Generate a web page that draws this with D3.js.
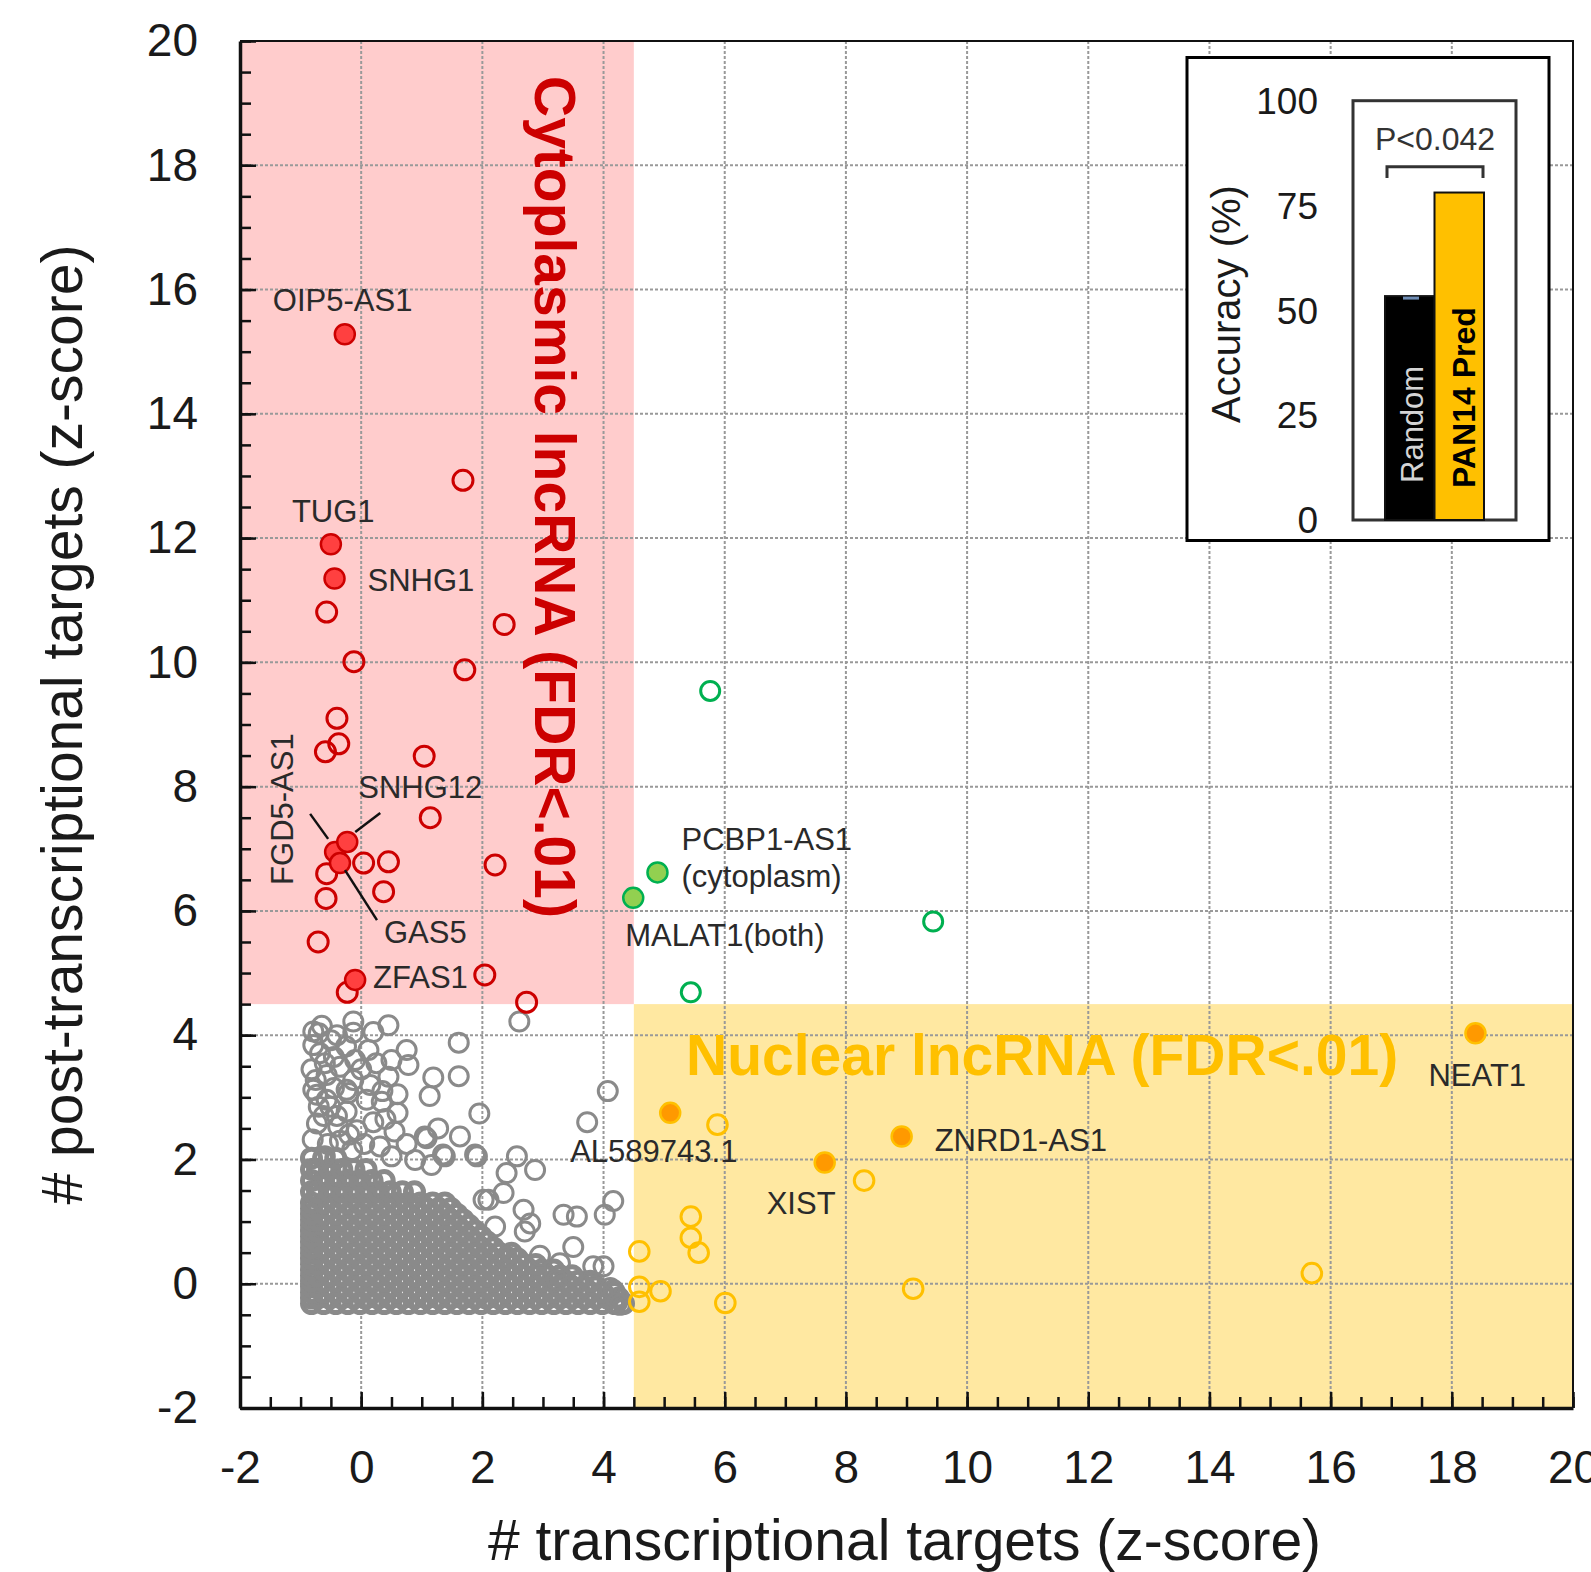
<!DOCTYPE html>
<html>
<head>
<meta charset="utf-8">
<script src="https://cdn.jsdelivr.net/npm/d3@7"></script>
<style>
  body { margin: 0; background: #fff; }
  text { font-family: 'Liberation Sans', Arial, sans-serif; }
</style>
</head>
<body>
<svg id="chart"></svg>
<script>
const W = 1591
const H = 1572
const margin = { top: 41, left: 240, right: 18, bottom: 164 }
const width = W - margin.left - margin.right
const height = H - margin.top - margin.bottom

/// data ////////////////////////////////
const xTicks = [-2, 0, 2, 4, 6, 8, 10, 12, 14, 16, 18, 20]
const yTicks = [-2, 0, 2, 4, 6, 8, 10, 12, 14, 16, 18, 20]
const insetTicks = [0, 25, 50, 75, 100]

// shaded zones (FDR < .01 thresholds)
const cytoZone = { x0: -2, x1: 4.5, y0: 4.5, y1: 20 }
const nucZone = { x0: 4.5, x1: 20, y0: -2, y1: 4.5 }

// named (filled) points: [name, transcriptional z, post-transcriptional z]
const cytoNamed = [
  ['OIP5-AS1', -0.27, 15.28],
  ['TUG1', -0.5, 11.9],
  ['SNHG1', -0.44, 11.35],
  ['FGD5-AS1', -0.43, 6.95],
  ['SNHG12', -0.23, 7.11],
  ['GAS5', -0.35, 6.77],
  ['ZFAS1', -0.1, 4.89]
]
const greenNamed = [
  ['PCBP1-AS1', 4.89, 6.62],
  ['MALAT1', 4.49, 6.21]
]
const nucNamed = [
  ['NEAT1', 18.39, 4.03],
  ['AL589743.1', 5.1, 2.75],
  ['ZNRD1-AS1', 8.92, 2.37],
  ['XIST', 7.65, 1.95]
]

// unnamed significant points
const cytoOpen = [
  [1.68, 12.93], [2.36, 10.61], [-0.57, 10.81], [-0.12, 10.01], [1.71, 9.88],
  [-0.4, 9.1], [-0.37, 8.69], [-0.59, 8.56], [1.04, 8.49], [1.14, 7.5],
  [0.04, 6.77], [0.45, 6.79], [-0.57, 6.6], [-0.58, 6.2], [0.37, 6.31],
  [-0.71, 5.5], [2.21, 6.74], [2.04, 4.97], [2.73, 4.53], [-0.23, 4.69]
]
const greenOpen = [[5.76, 9.54], [9.44, 5.83], [5.44, 4.69]]
const nucOpen = [
  [5.88, 2.56], [8.3, 1.66], [5.44, 1.08], [5.44, 0.74], [5.57, 0.5],
  [4.59, 0.52], [4.59, -0.05], [4.94, -0.12], [4.59, -0.29], [6.01, -0.31],
  [9.11, -0.08], [15.69, 0.17]
]

// non-significant lncRNAs, sparse part of the cloud
const grayScatter = [
  [-0.79, 4.06], [-0.7, 4.03], [-0.4, 4.0], [-0.13, 4.22], [-0.13, 4.04], [0.45, 4.16],
  [-0.5, 3.92], [-0.25, 3.82], [-0.79, 3.84], [-0.68, 3.71], [0.12, 3.76], [0.75, 3.76],
  [-0.6, 3.55], [0.25, 3.55], [0.78, 3.52], [-0.82, 3.45], [-0.35, 3.49], [0.0, 3.45],
  [-0.57, 3.36], [0.45, 3.33], [-0.13, 3.28], [-0.75, 3.28], [0.15, 3.2], [-0.79, 3.12],
  [-0.24, 3.12], [-0.21, 3.07], [-0.73, 3.04], [0.34, 2.93], [0.09, 2.96], [-0.57, 2.96],
  [-0.51, 2.85], [-0.7, 2.85], [-0.24, 2.77], [0.6, 2.75], [-0.4, 2.7], [-0.73, 2.58],
  [0.2, 2.6], [-0.38, 2.53], [-0.07, 2.47], [0.55, 2.45], [-0.8, 2.32], [-0.35, 2.3],
  [-0.55, 2.25], [0.05, 2.25], [0.31, 2.21], [-0.15, 2.15],
  [-0.65, 4.15], [0.2, 4.05], [-0.45, 3.65], [0.5, 3.6], [-0.1, 3.6], [0.35, 3.1],
  [-0.45, 3.15], [0.6, 3.05], [-0.62, 2.7], [0.4, 2.65], [-0.2, 2.4], [0.75, 2.25],
  [0.5, 2.05], [-0.6, 2.05],
  [1.61, 3.88], [2.61, 4.22], [1.19, 3.32], [1.61, 3.34], [1.13, 3.02], [1.95, 2.74],
  [1.27, 2.5], [1.08, 2.34], [1.05, 2.37], [1.63, 2.37], [1.38, 2.05], [1.35, 2.08],
  [0.89, 1.99], [1.16, 1.91], [1.91, 2.05], [1.88, 2.08], [2.57, 2.05], [2.4, 1.78],
  [2.87, 1.83], [2.35, 1.46], [2.1, 1.35], [2.02, 1.35], [2.68, 1.19], [2.79, 0.97],
  [2.7, 0.84], [2.21, 0.92], [3.34, 1.11], [3.56, 1.08], [4.16, 1.33], [4.02, 1.11],
  [3.73, 2.6], [4.07, 3.1], [2.95, 0.45], [2.4, 0.44], [3.5, 0.59], [3.28, 0.33],
  [3.83, 0.28], [3.23, 0.06], [4.11, -0.07], [4.16, -0.1], [4.22, -0.31], [4.27, -0.34],
  [4.0, 0.28]
]

// dense part of the cloud, read row by row: [y, x values]
const grayDenseRows = [
  [-0.32, [-0.82, -0.62, -0.42, -0.22, -0.02, 0.18, 0.38, 0.58, 0.78, 0.98, 1.18, 1.38, 1.58, 1.78, 1.98, 2.18, 2.38, 2.58, 2.78, 2.98, 3.18, 3.38, 3.58, 3.78, 3.98, 4.18, 4.33]],
  [-0.23, [-0.82, -0.72, -0.52, -0.32, -0.12, 0.08, 0.28, 0.48, 0.68, 0.88, 1.08, 1.28, 1.48, 1.68, 1.88, 2.08, 2.28, 2.48, 2.68, 2.88, 3.08, 3.28, 3.48, 3.68, 3.88, 4.08, 4.25]],
  [-0.14, [-0.82, -0.62, -0.42, -0.22, -0.02, 0.18, 0.38, 0.58, 0.78, 0.98, 1.18, 1.38, 1.58, 1.78, 1.98, 2.18, 2.38, 2.58, 2.78, 2.98, 3.18, 3.38, 3.58, 3.78, 3.98, 4.18]],
  [-0.05, [-0.82, -0.72, -0.52, -0.32, -0.12, 0.08, 0.28, 0.48, 0.68, 0.88, 1.08, 1.28, 1.48, 1.68, 1.88, 2.08, 2.28, 2.48, 2.68, 2.88, 3.08, 3.28, 3.48, 3.68, 3.88]],
  [0.04, [-0.82, -0.62, -0.42, -0.22, -0.02, 0.18, 0.38, 0.58, 0.78, 0.98, 1.18, 1.38, 1.58, 1.78, 1.98, 2.18, 2.38, 2.58, 2.78, 2.98, 3.18, 3.38, 3.58, 3.78]],
  [0.13, [-0.82, -0.72, -0.52, -0.32, -0.12, 0.08, 0.28, 0.48, 0.68, 0.88, 1.08, 1.28, 1.48, 1.68, 1.88, 2.08, 2.28, 2.48, 2.68, 2.88, 3.08, 3.28, 3.48]],
  [0.22, [-0.82, -0.62, -0.42, -0.22, -0.02, 0.18, 0.38, 0.58, 0.78, 0.98, 1.18, 1.38, 1.58, 1.78, 1.98, 2.18, 2.38, 2.58, 2.78, 2.98, 3.18]],
  [0.31, [-0.82, -0.72, -0.52, -0.32, -0.12, 0.08, 0.28, 0.48, 0.68, 0.88, 1.08, 1.28, 1.48, 1.68, 1.88, 2.08, 2.28, 2.48, 2.68, 2.88]],
  [0.4, [-0.82, -0.62, -0.42, -0.22, -0.02, 0.18, 0.38, 0.58, 0.78, 0.98, 1.18, 1.38, 1.58, 1.78, 1.98, 2.18, 2.38, 2.58]],
  [0.49, [-0.82, -0.72, -0.52, -0.32, -0.12, 0.08, 0.28, 0.48, 0.68, 0.88, 1.08, 1.28, 1.48, 1.68, 1.88, 2.08, 2.28, 2.48]],
  [0.58, [-0.82, -0.62, -0.42, -0.22, -0.02, 0.18, 0.38, 0.58, 0.78, 0.98, 1.18, 1.38, 1.58, 1.78, 1.98, 2.18]],
  [0.67, [-0.82, -0.72, -0.52, -0.32, -0.12, 0.08, 0.28, 0.48, 0.68, 0.88, 1.08, 1.28, 1.48, 1.68, 1.88, 2.08]],
  [0.76, [-0.82, -0.62, -0.42, -0.22, -0.02, 0.18, 0.38, 0.58, 0.78, 0.98, 1.18, 1.38, 1.58, 1.78, 1.98]],
  [0.85, [-0.82, -0.72, -0.52, -0.32, -0.12, 0.08, 0.28, 0.48, 0.68, 0.88, 1.08, 1.28, 1.48, 1.68, 1.88]],
  [0.94, [-0.82, -0.62, -0.42, -0.22, -0.02, 0.18, 0.38, 0.58, 0.78, 0.98, 1.18, 1.38, 1.58, 1.78]],
  [1.03, [-0.82, -0.72, -0.52, -0.32, -0.12, 0.08, 0.28, 0.48, 0.68, 0.88, 1.08, 1.28, 1.48, 1.68]],
  [1.12, [-0.82, -0.62, -0.42, -0.22, -0.02, 0.18, 0.38, 0.58, 0.78, 0.98, 1.18, 1.38, 1.58]],
  [1.21, [-0.82, -0.72, -0.52, -0.32, -0.12, 0.08, 0.28, 0.48, 0.68, 0.88, 1.08, 1.28, 1.48]],
  [1.3, [-0.82, -0.62, -0.42, -0.22, -0.02, 0.18, 0.38, 0.58, 0.78, 0.98, 1.18, 1.38]],
  [1.48, [-0.82, -0.72, -0.52, -0.32, -0.12, 0.08, 0.28, 0.48, 0.68, 0.88]],
  [1.66, [-0.82, -0.62, -0.42, -0.22, -0.02, 0.18, 0.38]],
  [1.84, [-0.82, -0.72, -0.52, -0.32, -0.12, 0.08]],
  [2.02, [-0.82, -0.62, -0.42]]
]

// inset bar chart
const insetGroups = ['Random', 'PAN14 Pred']
const insetAccuracy = [53.4, 78.1]
const insetPValue = 'P<0.042'

/// label layout (pixel offsets from the point) ////////
const labelLayout = {
  'OIP5-AS1': { dx: -72, dy: -23 },
  TUG1: { dx: -39, dy: -22 },
  SNHG1: { dx: 33, dy: 13 },
  'FGD5-AS1': { dx: -42, dy: 33, rotate: true, line: [-25, -38, -7, -13] },
  SNHG12: { dx: 11, dy: -44, line: [33, -29, 8, -10] },
  GAS5: { dx: 44, dy: 80, line: [5, 7, 37, 57] },
  ZFAS1: { dx: 18, dy: 8 },
  'PCBP1-AS1': { dx: 24, dy: -22, lines: ['PCBP1-AS1', '(cytoplasm)'] },
  MALAT1: { dx: -8, dy: 48, lines: ['MALAT1(both)'] },
  NEAT1: { dx: -47, dy: 53 },
  'AL589743.1': { dx: -100, dy: 49 },
  'ZNRD1-AS1': { dx: 33, dy: 15 },
  XIST: { dx: -58, dy: 51 }
}

const svg = d3
  .select('#chart')
  .attr('width', W)
  .attr('height', H)

const g = svg
  .append('g')
  .attr('transform', 'translate(' + margin.left + ',' + margin.top + ')')

/// Scales ////////////////////////////////
const xScale = d3.scaleLinear().domain([-2, 20]).range([0, width])
const yScale = d3.scaleLinear().domain([-2, 20]).range([height, 0])

/// zones ////////////////////////////////
g.append('rect')
  .attr('x', xScale(cytoZone.x0))
  .attr('y', yScale(cytoZone.y1))
  .attr('width', xScale(cytoZone.x1) - xScale(cytoZone.x0))
  .attr('height', yScale(cytoZone.y0) - yScale(cytoZone.y1))
  .attr('fill', '#FFCCCC')

g.append('rect')
  .attr('x', xScale(nucZone.x0))
  .attr('y', yScale(nucZone.y1))
  .attr('width', xScale(nucZone.x1) - xScale(nucZone.x0))
  .attr('height', yScale(nucZone.y0) - yScale(nucZone.y1))
  .attr('fill', '#FFE8A1')

/// grid ////////////////////////////////
g.selectAll('.grid-x')
  .data(xTicks.slice(1, -1))
  .join('line')
  .attr('class', 'grid-x')
  .attr('x1', d => xScale(d))
  .attr('x2', d => xScale(d))
  .attr('y1', 0)
  .attr('y2', height)
  .attr('stroke', '#999')
  .attr('stroke-width', 2)
  .attr('stroke-dasharray', '3,2')

g.selectAll('.grid-y')
  .data(yTicks.slice(1, -1))
  .join('line')
  .attr('class', 'grid-y')
  .attr('x1', 0)
  .attr('x2', width)
  .attr('y1', d => yScale(d))
  .attr('y2', d => yScale(d))
  .attr('stroke', '#999')
  .attr('stroke-width', 2)
  .attr('stroke-dasharray', '3,2')

/// zone titles ////////////////////////////////
g.append('text')
  .text('Cytoplasmic lncRNA (FDR<.01)')
  .attr('transform', 'translate(' + (535 - margin.left) + ',' + (76 - margin.top) + ') rotate(90)')
  .attr('font-size', 57)
  .attr('font-weight', 'bold')
  .attr('fill', '#CC0000')

g.append('text')
  .text('Nuclear lncRNA (FDR<.01)')
  .attr('x', 686 - margin.left)
  .attr('y', 1075 - margin.top)
  .attr('font-size', 57)
  .attr('font-weight', 'bold')
  .attr('fill', '#FFC000')

/// points ////////////////////////////////
const denseXY = grayDenseRows.flatMap(r => r[1].map(x => [x, r[0]]))

function openDots(cls, data, color, r, sw) {
  g.selectAll('.' + cls)
    .data(data)
    .join('circle')
    .attr('class', cls)
    .attr('cx', d => xScale(d[0]))
    .attr('cy', d => yScale(d[1]))
    .attr('r', r)
    .attr('fill', 'none')
    .attr('stroke', color)
    .attr('stroke-width', sw || 3)
}

function filledDots(cls, data, fill, stroke) {
  g.selectAll('.' + cls)
    .data(data)
    .join('circle')
    .attr('class', cls)
    .attr('cx', d => xScale(d[1]))
    .attr('cy', d => yScale(d[2]))
    .attr('r', 10)
    .attr('fill', fill)
    .attr('stroke', stroke)
    .attr('stroke-width', 2.5)
}

// the packed core of the cloud reads as solid grey in the figure
openDots('gray-dense', denseXY, '#8a8a8a', 9, 5)
openDots('gray-sparse', grayScatter, '#8a8a8a', 9.5)
openDots('nuc-open', nucOpen, '#FFC000', 9.8)
openDots('green-open', greenOpen, '#00B050', 9.5)
openDots('cyto-open', cytoOpen, '#CC0000', 10)

filledDots('cyto-filled', cytoNamed, '#FF4040', '#CC0000')
filledDots('green-filled', greenNamed, '#92D050', '#00B050')
filledDots('nuc-filled', nucNamed, '#FF9900', '#FFC000')

/// point labels ////////////////////////////////
const named = cytoNamed.concat(greenNamed, nucNamed)

named.forEach(d => {
  const lay = labelLayout[d[0]]
  const px = xScale(d[1])
  const py = yScale(d[2])
  if (lay.line) {
    g.append('line')
      .attr('x1', px + lay.line[0])
      .attr('y1', py + lay.line[1])
      .attr('x2', px + lay.line[2])
      .attr('y2', py + lay.line[3])
      .attr('stroke', '#111')
      .attr('stroke-width', 2.5)
  }
  const t = g
    .append('text')
    .attr('font-size', 31)
    .attr('fill', '#2a2a2a')
  if (lay.rotate) {
    t.attr('transform', 'translate(' + (px + lay.dx) + ',' + (py + lay.dy) + ') rotate(-90)').text(d[0])
  } else if (lay.lines) {
    t.attr('x', px + lay.dx).attr('y', py + lay.dy)
    lay.lines.forEach((s, i) => {
      t.append('tspan')
        .attr('x', px + lay.dx)
        .attr('dy', i === 0 ? 0 : 37)
        .text(s)
    })
  } else {
    t.attr('x', px + lay.dx).attr('y', py + lay.dy).text(d[0])
  }
})

/// axes ////////////////////////////////
const minorTicks = d3.range(-2, 20.001, 0.5)

const yAxis = g
  .append('g')
  .attr('class', 'axis y-axis')
  .call(
    d3
      .axisLeft(yScale)
      .tickValues(yTicks)
      .tickSizeInner(-16)
      .tickSizeOuter(0)
      .tickPadding(42)
      .tickFormat(d => String(d))
  )
yAxis.select('.domain').attr('stroke', '#111').attr('stroke-width', 3.5)
yAxis.selectAll('.tick line').attr('stroke', '#111').attr('stroke-width', 2.5)
yAxis
  .selectAll('.tick text')
  .attr('font-size', 46)
  .attr('fill', '#1a1a1a')
  .attr('font-family', "'Liberation Sans', Arial, sans-serif")

g.append('g')
  .call(
    d3
      .axisLeft(yScale)
      .tickValues(minorTicks)
      .tickSizeInner(-11)
      .tickSizeOuter(0)
      .tickFormat('')
  )
  .call(a => a.select('.domain').remove())
  .selectAll('.tick line')
  .attr('stroke', '#111')
  .attr('stroke-width', 2.5)

const xAxis = g
  .append('g')
  .attr('class', 'axis x-axis')
  .attr('transform', 'translate(0,' + height + ')')
  .call(
    d3
      .axisBottom(xScale)
      .tickValues(xTicks)
      .tickSizeInner(-16)
      .tickSizeOuter(0)
      .tickPadding(42)
      .tickFormat(d => String(d))
  )
xAxis.select('.domain').attr('stroke', '#111').attr('stroke-width', 3.5)
xAxis.selectAll('.tick line').attr('stroke', '#111').attr('stroke-width', 2.5)
xAxis
  .selectAll('.tick text')
  .attr('font-size', 46)
  .attr('fill', '#1a1a1a')
  .attr('font-family', "'Liberation Sans', Arial, sans-serif")

g.append('g')
  .attr('transform', 'translate(0,' + height + ')')
  .call(
    d3
      .axisBottom(xScale)
      .tickValues(minorTicks)
      .tickSizeInner(-11)
      .tickSizeOuter(0)
      .tickFormat('')
  )
  .call(a => a.select('.domain').remove())
  .selectAll('.tick line')
  .attr('stroke', '#111')
  .attr('stroke-width', 2.5)

// frame top / right
g.append('path')
  .attr('d', 'M0,0H' + width + 'V' + height)
  .attr('fill', 'none')
  .attr('stroke', '#111')
  .attr('stroke-width', 2)

/// axis titles ////////////////////////////////
svg
  .append('text')
  .text('# post-transcriptional targets (z-score)')
  .attr('transform', 'translate(82,' + (margin.top + height / 2) + ') rotate(-90)')
  .attr('text-anchor', 'middle')
  .attr('font-size', 57)
  .attr('fill', '#1a1a1a')

svg
  .append('text')
  .text('# transcriptional targets (z-score)')
  .attr('x', margin.left + width / 2 - 2)
  .attr('y', 1560)
  .attr('text-anchor', 'middle')
  .attr('font-size', 57)
  .attr('fill', '#1a1a1a')

/// inset ////////////////////////////////
const inset = svg.append('g').attr('class', 'inset')

inset
  .append('rect')
  .attr('x', 1187)
  .attr('y', 57.5)
  .attr('width', 362)
  .attr('height', 483)
  .attr('fill', '#fff')
  .attr('stroke', '#000')
  .attr('stroke-width', 3)

const yIn = d3.scaleLinear().domain([0, 100]).range([520, 100.7])
const xIn = d3.scaleBand().domain(insetGroups).range([1385, 1484]).padding(0)

inset
  .append('rect')
  .attr('x', 1353)
  .attr('y', yIn(100))
  .attr('width', 163)
  .attr('height', yIn(0) - yIn(100))
  .attr('fill', '#fff')
  .attr('stroke', '#333')
  .attr('stroke-width', 3)

inset
  .selectAll('.in-tick')
  .data(insetTicks)
  .join('text')
  .attr('class', 'in-tick')
  .attr('x', 1318)
  .attr('y', d => yIn(d))
  .attr('dy', '0.36em')
  .attr('text-anchor', 'end')
  .attr('font-size', 37)
  .attr('fill', '#1a1a1a')
  .text(d => d)

inset
  .selectAll('.in-bar')
  .data(insetGroups)
  .join('rect')
  .attr('class', 'in-bar')
  .attr('x', d => xIn(d))
  .attr('y', (d, i) => yIn(insetAccuracy[i]))
  .attr('width', xIn.bandwidth())
  .attr('height', (d, i) => yIn(0) - yIn(insetAccuracy[i]))
  .attr('fill', (d, i) => (i === 0 ? '#000' : '#FFC000'))
  .attr('stroke', '#111')
  .attr('stroke-width', 2)

// small error cap on the random bar
inset
  .append('line')
  .attr('x1', xIn('Random') + 18)
  .attr('x2', xIn('Random') + 34)
  .attr('y1', yIn(insetAccuracy[0]) + 2)
  .attr('y2', yIn(insetAccuracy[0]) + 2)
  .attr('stroke', '#6f8db5')
  .attr('stroke-width', 3)

inset
  .append('text')
  .text('Random')
  .attr('transform', 'translate(' + (xIn('Random') + 38) + ',483) rotate(-90)')
  .attr('font-size', 31)
  .attr('fill', '#d4d4d4')

inset
  .append('text')
  .text('PAN14 Pred')
  .attr('transform', 'translate(' + (xIn('PAN14 Pred') + 40) + ',488) rotate(-90)')
  .attr('font-size', 32)
  .attr('font-weight', 'bold')
  .attr('fill', '#000')

// significance bracket
const bx0 = xIn('Random') + 2
const bx1 = xIn('PAN14 Pred') + xIn.bandwidth() - 1
inset
  .append('path')
  .attr('d', 'M' + bx0 + ',178V166.7H' + bx1 + 'V178')
  .attr('fill', 'none')
  .attr('stroke', '#333')
  .attr('stroke-width', 3)

inset
  .append('text')
  .text(insetPValue)
  .attr('x', (bx0 + bx1) / 2)
  .attr('y', 150)
  .attr('text-anchor', 'middle')
  .attr('font-size', 32)
  .attr('fill', '#333')

inset
  .append('text')
  .text('Accuracy (%)')
  .attr('transform', 'translate(1240,304) rotate(-90)')
  .attr('text-anchor', 'middle')
  .attr('font-size', 40)
  .attr('fill', '#1a1a1a')
</script>
</body>
</html>
